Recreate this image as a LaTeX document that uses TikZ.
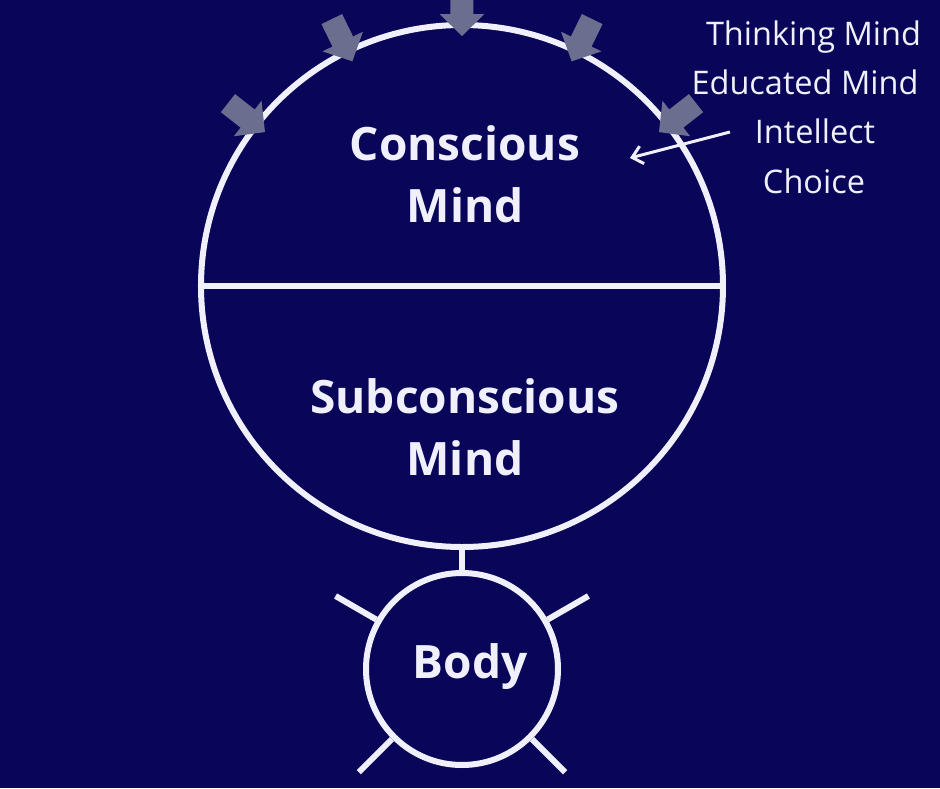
\documentclass[tikz,border=0pt]{standalone}
\usepackage{fontspec}
\setmainfont{Open Sans}
\usetikzlibrary{arrows.meta,calc}
\definecolor{bgnavy}{RGB}{9,5,88}
\definecolor{linew}{RGB}{240,240,252}
\definecolor{arrowgray}{RGB}{107,110,143}
\tikzset{
  ring/.style={draw=linew, line width=6pt},
  bigtext/.style={text=linew, font=\fontsize{46}{62}\selectfont\bfseries, align=center},
  sidetext/.style={text=linew, font=\fontsize{32.5}{40}\selectfont},
  pointer/.style={draw=linew, line width=3pt, -{Straight Barb[length=10pt,width=18pt,line width=3pt]}},
}
\begin{document}
\begin{tikzpicture}[x=1pt,y=1pt]
% background (pixel (px,py) -> (px-462, 286-py))
\fill[bgnavy] (-462,-502) rectangle (478,286);
\useasboundingbox (-462,-502) rectangle (478,286);
% big circle
\node[circle, ring, minimum size=522pt, inner sep=0pt] (mind) at (0,0) {};
\draw[ring] (mind.west) -- (mind.east);
% body
\node[circle, ring, minimum size=192pt, inner sep=0pt] (body) at (0,-383) {};
\draw[ring] (mind.south) -- (body.north);
\foreach \a in {150,30,225,315}{
  \draw[ring] (body.\a) -- ($(body.center)+(\a:146)$);
}
% gray arrows
\foreach \a in {90,64,116,38,142}{
  \begin{scope}[shift={(\a:250)}, rotate=\a]
    \fill[arrowgray] (0,0) -- (22,22.5) -- (22,11.5) -- (47,11.5) -- (47,-11.5) -- (22,-11.5) -- (22,-22.5) -- cycle;
  \end{scope}
}
% texts
\node[bigtext] (cm) at (3,112) {Conscious\\Mind};
\node[bigtext] (sm) at (3,-141) {Subconscious\\Mind};
\node[bigtext] (bt) at (8,-381) {Body};
\node[sidetext] (t1) at (351.5,249) {Thinking Mind};
\node[sidetext] (t2) at (343,204) {Educated Mind};
\node[sidetext] (t3) at (353,155) {Intellect};
\node[sidetext] (t4) at (352,105) {Choice};
\coordinate (ptip) at (168,128);
\draw[pointer] (268,154) -- (ptip);
\end{tikzpicture}
\end{document}
